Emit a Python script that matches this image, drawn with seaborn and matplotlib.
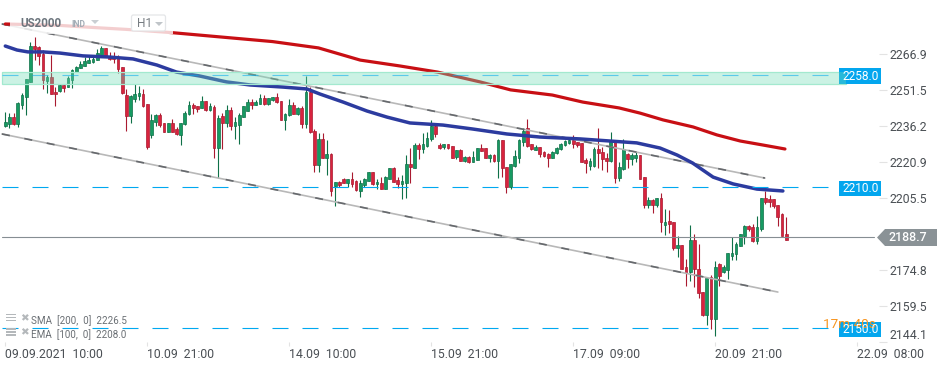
import numpy as np
import matplotlib
matplotlib.use("Agg")
import matplotlib.pyplot as plt
from matplotlib.patches import Rectangle, Polygon, FancyBboxPatch
import seaborn as sns

opens = [2236.2,2236.9,2240.0,2237.1,2245.3,2248.7,2255.1,2270.3,2269.9,2267.0,2255.5,2257.0,2250.8,2251.1,2253.7,2253.0,2255.8,2259.2,2261.1,2261.9,
 2263.1,2263.3,2264.5,2266.3,2269.5,2266.1,2265.5,2265.5,2261.2,2249.4,2240.6,2247.6,2249.0,2249.8,2245.6,2232.4,2237.9,2240.8,2237.3,2233.8,
 2237.3,2235.1,2232.4,2236.9,2241.3,2245.0,2244.6,2244.0,2246.7,2242.9,2244.4,2226.9,2240.5,2237.5,2242.9,2236.2,2236.6,2240.2,2242.6,2246.3,
 2245.2,2245.7,2248.0,2245.6,2247.3,2248.4,2246.7,2238.8,2240.8,2245.0,2241.3,2243.9,2237.1,2250.8,2234.2,2219.7,2230.6,2222.7,2224.3,2210.6,
 2212.2,2213.6,2211.9,2213.6,2212.7,2208.5,2210.9,2212.9,2216.5,2211.3,2212.0,2209.5,2213.6,2218.3,2213.2,2211.5,2212.0,2220.0,2218.3,2228.1,
 2226.4,2227.7,2230.6,2236.2,2228.1,2227.2,2228.4,2227.7,2222.8,2226.0,2221.4,2223.1,2221.0,2221.8,2226.7,2226.7,2222.6,2223.8,2221.4,2230.2,
 2218.6,2210.2,2219.1,2222.7,2229.5,2235.2,2228.4,2226.1,2227.1,2225.1,2224.3,2222.7,2224.5,2226.2,2228.0,2229.1,2230.2,2229.2,2228.8,2221.7,
 2219.1,2219.3,2226.2,2225.0,2222.7,2221.3,2230.2,2214.0,2218.0,2224.1,2222.3,2222.7,2223.7,2214.3,2202.5,2204.5,2202.5,2205.3,2194.0,2195.5,
 2195.1,2184.3,2185.3,2175.9,2174.0,2187.5,2175.1,2165.3,2155.8,2171.7,2153.8,2177.2,2173.8,2175.0,2180.9,2181.5,2185.2,2189.4,2193.4,2193.0,
 2187.3,2192.4,2205.3,2204.9,2204.9,2202.4,2198.7,2190.0]
closes = [2237.8,2240.0,2237.1,2246.0,2249.4,2256.1,2270.3,2268.9,2266.2,2255.8,2257.0,2250.0,2250.0,2253.7,2252.6,2256.5,2260.1,2261.3,2262.8,2263.9,
 2264.5,2264.9,2267.2,2269.6,2266.2,2264.9,2264.6,2260.7,2250.4,2240.6,2249.0,2249.8,2250.3,2244.7,2227.2,2238.8,2240.9,2236.8,2233.8,2237.3,
 2233.8,2232.6,2237.3,2241.7,2245.0,2243.9,2243.6,2246.9,2243.0,2244.7,2226.9,2239.6,2237.6,2243.0,2236.2,2237.8,2240.9,2244.6,2246.3,2245.2,
 2246.4,2248.0,2245.6,2248.0,2248.4,2246.4,2238.8,2241.3,2245.2,2241.5,2243.9,2237.1,2250.8,2233.6,2219.7,2230.5,2222.7,2224.1,2208.6,2212.2,
 2210.9,2211.9,2213.6,2211.6,2208.9,2211.8,2213.6,2216.5,2211.5,2212.3,2209.3,2214.3,2218.1,2212.5,2211.5,2212.7,2220.0,2218.9,2228.1,2226.4,
 2228.4,2230.9,2236.2,2232.6,2226.9,2228.4,2226.7,2222.6,2225.8,2221.4,2223.1,2220.8,2222.8,2226.8,2225.7,2222.6,2223.8,2221.4,2230.2,2218.4,
 2210.2,2219.9,2223.4,2230.2,2234.2,2227.8,2226.4,2227.2,2224.4,2223.6,2222.7,2225.3,2226.8,2228.4,2229.8,2230.2,2228.7,2228.2,2221.0,2220.6,
 2221.1,2226.4,2224.5,2222.1,2221.4,2230.2,2213.9,2218.6,2226.2,2222.3,2223.7,2223.7,2213.7,2202.5,2204.5,2202.7,2205.3,2195.1,2195.1,2194.6,
 2184.3,2185.3,2175.4,2173.7,2187.5,2175.4,2164.9,2155.6,2171.4,2153.8,2175.9,2172.1,2175.9,2181.9,2181.9,2185.7,2190.0,2193.4,2192.3,2187.3,
 2193.0,2205.3,2203.9,2203.9,2202.2,2197.6,2189.4,2187.7]
highs = [2242.3,2241.9,2241.6,2246.6,2250.4,2256.1,2271.9,2274.0,2270.3,2268.6,2258.0,2266.5,2252.7,2254.0,2254.1,2257.5,2260.5,2261.8,2263.8,2265.5,
 2266.2,2266.5,2268.9,2270.3,2269.5,2267.9,2267.7,2266.5,2261.2,2251.8,2249.4,2254.1,2253.3,2251.8,2245.6,2241.3,2241.3,2241.6,2237.6,2237.3,
 2239.3,2235.9,2237.6,2242.7,2247.0,2246.1,2244.7,2249.0,2247.0,2245.9,2245.0,2240.7,2241.9,2245.0,2244.4,2239.9,2241.9,2244.6,2247.9,2247.9,
 2247.1,2249.8,2249.4,2248.3,2248.7,2250.1,2246.9,2241.9,2247.6,2246.6,2244.4,2244.7,2257.5,2252.7,2234.8,2233.3,2233.3,2230.2,2224.5,2212.2,
 2212.7,2214.2,2213.6,2216.6,2213.2,2213.2,2214.2,2216.6,2216.6,2213.5,2214.3,2214.9,2218.1,2218.9,2214.6,2215.3,2223.8,2226.7,2229.1,2229.1,
 2233.1,2233.8,2238.8,2237.3,2228.8,2228.5,2228.5,2227.7,2226.0,2226.2,2223.4,2223.4,2225.4,2226.9,2228.4,2226.7,2224.1,2224.1,2230.5,2230.2,
 2218.6,2219.9,2226.0,2230.5,2235.2,2239.2,2228.4,2228.0,2227.4,2225.5,2224.8,2225.7,2227.4,2228.8,2230.2,2230.9,2232.2,2229.5,2229.1,2222.7,
 2222.4,2227.4,2235.4,2227.4,2224.5,2233.5,2230.2,2221.0,2230.6,2224.5,2224.5,2225.2,2223.7,2214.3,2205.8,2204.9,2205.3,2207.5,2200.8,2200.4,
 2195.1,2189.3,2185.6,2179.4,2194.0,2190.0,2185.9,2165.3,2171.4,2172.7,2178.6,2177.6,2176.8,2182.0,2189.0,2186.7,2190.1,2193.8,2193.8,2194.4,
 2197.7,2205.3,2208.5,2206.6,2205.2,2202.4,2199.0,2197.4]
lows = [2235.8,2235.2,2236.6,2235.9,2243.6,2240.9,2255.1,2264.3,2262.2,2252.1,2250.4,2250.0,2244.7,2250.6,2250.6,2252.7,2252.4,2259.2,2260.9,2261.9,
 2262.9,2262.9,2264.3,2266.2,2265.8,2264.3,2262.9,2258.9,2249.7,2234.2,2237.6,2246.4,2247.3,2244.4,2226.4,2230.9,2236.2,2235.9,2233.6,2233.6,
 2233.6,2232.4,2228.1,2236.6,2240.9,2241.3,2242.2,2243.8,2242.7,2242.6,2222.6,2214.0,2226.4,2235.6,2234.5,2230.8,2228.5,2239.9,2242.6,2243.3,
 2245.0,2245.6,2245.2,2245.2,2246.9,2245.9,2238.8,2234.5,2240.5,2241.3,2240.9,2235.2,2235.2,2233.3,2216.6,2216.6,2222.7,2215.3,2206.3,2202.1,
 2210.0,2211.8,2210.0,2210.3,2208.5,2206.1,2210.3,2212.6,2211.0,2209.2,2209.2,2209.3,2213.5,2212.3,2209.6,2205.2,2205.4,2212.0,2218.1,2222.0,
 2224.5,2227.4,2229.9,2231.6,2226.2,2226.2,2226.4,2222.4,2222.0,2221.1,2221.0,2220.6,2220.8,2221.7,2225.5,2222.4,2220.7,2220.8,2214.2,2214.3,
 2207.8,2209.5,2218.9,2220.3,2227.7,2227.4,2226.0,2226.0,2223.1,2223.1,2218.9,2222.6,2224.3,2226.0,2227.7,2228.5,2226.7,2227.1,2220.8,2216.3,
 2217.4,2218.9,2218.1,2217.4,2216.7,2221.0,2212.0,2212.9,2217.4,2218.4,2219.6,2221.0,2213.7,2201.1,2201.1,2199.3,2201.5,2191.1,2189.7,2190.4,
 2183.3,2180.5,2175.1,2168.1,2170.3,2167.7,2162.7,2155.3,2151.4,2149.8,2146.7,2168.1,2173.7,2171.0,2179.1,2179.1,2185.0,2185.9,2191.6,2186.9,
 2185.9,2191.6,2203.1,2201.8,2201.2,2193.6,2189.3,2187.7]

sma_idx = [0,13,23,29,40,54.5,64,75,85,94.5,103.5,113.7,121,131,138.3,147,152,157.5,164.7,170.4,176,181.4,186.7]
sma_val = [2279.7,2279.1,2278.0,2277.4,2276.0,2273.7,2272.2,2269.5,2264.3,2261.8,2259.2,2255.0,2251.6,2249.4,2246.4,2243.9,2241.7,2238.8,2235.8,2232.4,2229.8,2228.1,2226.4]
ema_idx = [0,2.8,5.4,9,13.1,18.6,25,30.6,36.3,41,46.6,53,58.6,66.5,72.2,75.4,80.9,86.6,91.4,96.9,104.8,112,120.1,128,137.6,144.8,151.2,156.8,160.9,164.6,169.5,174.3,180,186.2]
ema_val = [2270.3,2268.6,2267.8,2267.8,2267.3,2266.1,2265.6,2264.8,2262.2,2259.2,2257.5,2255.0,2253.7,2252.8,2252.0,2249.8,2246.4,2242.6,2240.0,2237.5,2236.6,2234.9,2232.8,2231.5,2230.7,2229.8,2229.0,2226.8,2223.8,2220.4,2214.4,2211.5,2209.3,2208.5]
upper_idx = [-0.8,181.9]
upper_val = [2279.7,2214.0]
lower_idx = [-0.8,185]
lower_val = [2232.8,2165.4]

levels = [2258.0,2210.0,2150.0]
level_labels = ["2258.0","2210.0","2150.0"]
band_top, band_bottom = 2259.4,2254.3
last_price = 2188.7
y_ticks = [2266.9,2251.5,2236.2,2220.9,2205.5,2174.8,2159.5,2144.1]
x_ticks = [0,34,68,102,136,170,204]
x_labels = ["09.09.2021  10:00","10.09  21:00","14.09  10:00","15.09  21:00","17.09  09:00","20.09  21:00","22.09  08:00"]
legend_rows = ["SMA  [200,  0]  2226.5","EMA  [100,  0]  2208.0"]

GREEN, GREEN_D = "#169a62", "#0f7048"
RED, RED_D = "#d8233e", "#a91a30"
BLUE = "#00a8f0"
FONT = "Roboto"

sns.set_theme(style="white")
plt.rcParams["font.family"] = [FONT, "DejaVu Sans"]

W, H = 950, 367
fig = plt.figure(figsize=(W/100, H/100), dpi=100, facecolor="white")
ax = fig.add_axes([0, 1-342/H, 887/W, 342/H])
ax.patch.set_alpha(0)
ax.set_xlim(-5.3/4.176, (887-5.3)/4.176)
ax.set_ylim(2144.1, 2289.93)
for s in ax.spines.values():
    s.set_visible(False)

idx = np.arange(len(opens))
o, c, h, l = map(np.array, (opens, closes, highs, lows))
up = c >= o
bottoms = np.minimum(o, c)
heights = np.maximum(np.abs(c-o), 0.3)
ax.vlines(idx[up], l[up], h[up], color=GREEN_D, lw=0.8, zorder=2)
ax.vlines(idx[~up], l[~up], h[~up], color=RED_D, lw=0.8, zorder=2)
ax.bar(idx[up], heights[up], bottom=bottoms[up], width=0.66, color=GREEN, edgecolor=GREEN_D, lw=0.5, zorder=2.1)
ax.bar(idx[~up], heights[~up], bottom=bottoms[~up], width=0.66, color=RED, edgecolor=RED_D, lw=0.5, zorder=2.1)

ax.plot([-0.8, 208], [last_price]*2, color="#868e93", lw=0.8, zorder=2.5)

for xs, ys in ((upper_idx, upper_val), (lower_idx, lower_val)):
    sns.lineplot(x=xs, y=ys, ax=ax, color="#b8b8b8", lw=1.2, zorder=3, estimator=None, legend=False)
    ax.plot(xs, ys, color="#66696d", lw=1.2, ls=(0, (4.8, 8.9)), zorder=3.1)

sns.lineplot(x=sma_idx, y=sma_val, ax=ax, color="#c80f14", lw=2.3, zorder=3.2, estimator=None, sort=False, legend=False)
sns.lineplot(x=ema_idx, y=ema_val, ax=ax, color="#2c3b9f", lw=2.5, zorder=3.3, estimator=None, sort=False, legend=False)

ax.add_patch(Rectangle((-0.8, band_bottom), 202.1, band_top-band_bottom, facecolor="#6fdcb6", alpha=0.36,
                       edgecolor="none", zorder=5, clip_on=False))
ax.add_patch(Rectangle((-0.8, band_bottom), 202.1, band_top-band_bottom, facecolor="none",
                       edgecolor="#a3e9cf", lw=0.9, zorder=5.1, clip_on=False))

for lv in levels:
    ax.plot([-0.8, 197.7], [lv, lv], color=BLUE, lw=0.8, alpha=0.55 if lv == levels[0] else 1.0,
            ls=(0, (14.4, 12.6)), zorder=5.2)

ax.set_xticks(x_ticks, x_labels, ha="left")
ax.yaxis.tick_right()
ax.set_yticks(y_ticks, [f"{v:.1f}" for v in y_ticks])
ax.tick_params(axis="x", direction="out", length=3, width=0.8, color="#e3e3e3", labelsize=8.8, labelcolor="#4a4f54", pad=1, bottom=True)
ax.tick_params(axis="y", direction="in", length=6, width=0.8, color="#e3e3e3", labelsize=8.8, labelcolor="#4a4f54", pad=2, right=True, left=False)
for t in ax.get_yticklabels():
    if t.get_text() == "2144.1":
        t.set_va("bottom")

T = fig.transFigure
def P(x, y):
    return (x/W, 1-y/H)
def box(x0, y0, x1, y1, **kw):
    r = Rectangle(P(x0, y1), (x1-x0)/W, (y1-y0)/H, transform=T, clip_on=False, **kw)
    fig.add_artist(r)
    return r
def label(x, y, s, **kw):
    kw.setdefault("va", "center")
    return fig.text(x/W, 1-y/H, s, **kw)

# countdown, partly hidden by the level box
label(823, 327.5, "17m 40s", color="#f7941e", fontsize=9.7, va="baseline", zorder=6)

# level boxes
for lv, s, yc in zip(levels, level_labels, (76, 188.5, 329.5)):
    box(839, yc-7.5, 881, yc+7.5, facecolor="#03a6ee", edgecolor="none", zorder=6)
    label(860.5, yc, s, color="white", fontsize=8.6, ha="center", zorder=7)
box(839, 71.7, 846, 83.5, facecolor="#6fdcb6", alpha=0.36, edgecolor="none", zorder=7)

# last price flag
fig.add_artist(Polygon([P(877, 237.5), P(885, 229), P(937, 229), P(937, 246), P(885, 246)], closed=True,
                       transform=T, facecolor="#8a9296", edgecolor="none", zorder=6))
label(907.5, 237.7, f"{last_price:.1f}", color="white", fontsize=8.9, ha="center", fontweight="medium", zorder=7)

# header: white veil over the lines, symbol and interval button
box(10, 15, 173, 34, facecolor="white", alpha=0.8, edgecolor="none", zorder=6)
label(20.5, 23.5, "US2000", color="#6c757d", fontsize=8.4, fontweight="bold", zorder=7)
label(71, 24.5, "IND", color="#a3adb6", fontsize=6.2, fontweight="bold", zorder=7)
fig.add_artist(Polygon([P(91, 20), P(99, 20), P(95, 24)], closed=True, transform=T, facecolor="#c9ced2", edgecolor="none", zorder=7))
fig.add_artist(FancyBboxPatch((131.5, H-31), 34, 16, boxstyle="round,pad=0,rounding_size=2", transform=None,
                              facecolor="white", edgecolor="#e4e6e8", lw=0.9, zorder=7))
label(137, 23.5, "H1", color="#777d82", fontsize=8.6, zorder=8)
fig.add_artist(Polygon([P(155, 22), P(163, 22), P(159, 26)], closed=True, transform=T, facecolor="#c0c5c9", edgecolor="none", zorder=8))

# legend rows
for s, yc in zip(legend_rows, (320.5, 335)):
    label(31, yc, s, color="#6a6f74", fontsize=7.1, zorder=7)
    for dy in (-3, 0, 3):
        box(6, yc-3+dy-0.8, 16, yc-3+dy+0.8, facecolor="#b4b8bb", edgecolor="none", zorder=7)
    label(24, yc-2.5, "\u2716", color="#b4b8bb", fontsize=7.5, ha="center", family="DejaVu Sans", zorder=7)

fig.savefig("out.png", dpi=100, facecolor="white")
